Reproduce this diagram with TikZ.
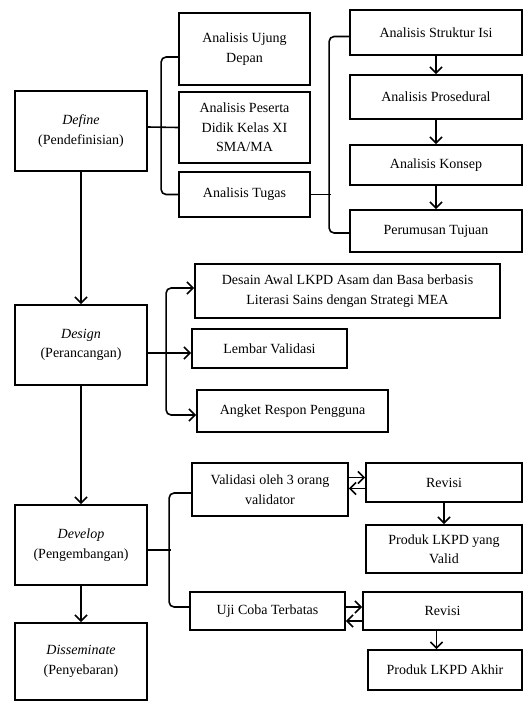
\documentclass[tikz,border=0pt]{standalone}
\usepackage{fontspec}
\setmainfont{Liberation Serif}
\usetikzlibrary{arrows.meta}

\begin{document}
\begin{tikzpicture}[x=1pt, y=-1pt,
    box/.style={draw, line width=1.8pt, align=center, inner sep=2pt,
        font=\fontsize{14}{19.5}\selectfont},
    every path/.style={line width=1.6pt},
    >={Straight Barb[length=6pt,width=12pt]}]
            \useasboundingbox (0,0) rectangle (531,702);
            \node[box, minimum width=132, minimum height=80] (def) at (81,131) {\textit{Define}\\(Pendefinisian)};
            \node[box, minimum width=131, minimum height=72] (ujung) at (244.5,49) {Analisis Ujung\\Depan};
            \node[box, minimum width=131, minimum height=71] (peserta) at (244.5,127.5) {Analisis Peserta\\Didik Kelas XI\\SMA/MA};
            \node[box, minimum width=131, minimum height=45] (tugas) at (244.5,194.5) {Analisis Tugas};
            \node[box, minimum width=172, minimum height=45] (struktur) at (436,32.5) {Analisis Struktur Isi};
            \node[box, minimum width=172, minimum height=44] (prosedur) at (436,97) {Analisis Prosedural};
            \node[box, minimum width=172, minimum height=40] (konsep) at (436,165) {Analisis Konsep};
            \node[box, minimum width=172, minimum height=42] (tujuan) at (436,231) {Perumusan Tujuan};
            \node[box, minimum width=132, minimum height=80] (des) at (81,345) {\textit{Design}\\(Perancangan)};
            \node[box, minimum width=305, minimum height=54] (awal) at (347.5,291) {Desain Awal LKPD Asam dan Basa berbasis\\Literasi Sains dengan Strategi MEA};
            \node[box, minimum width=155, minimum height=39] (lembar) at (269.5,348.5) {Lembar Validasi};
            \node[box, minimum width=191, minimum height=42] (angket) at (292.5,411) {Angket Respon Pengguna};
            \node[box, minimum width=132, minimum height=80] (dev) at (81,545) {\textit{Develop}\\(Pengembangan)};
            \node[box, minimum width=132, minimum height=77] (dis) at (81,661.5) {\textit{Disseminate}\\(Penyebaran)};
            \node[box, minimum width=156, minimum height=53] (valid) at (270,489.5) {Validasi oleh 3 orang\\validator};
            \node[box, minimum width=156, minimum height=39] (rev1) at (444,482.5) {Revisi};
            \node[box, minimum width=156, minimum height=48] (prod1) at (444,549) {Produk LKPD yang\\Valid};
            \node[box, minimum width=155, minimum height=38] (uji) at (267.5,611) {Uji Coba Terbatas};
            \node[box, minimum width=159, minimum height=38] (rev2) at (442.5,611) {Revisi};
            \node[box, minimum width=154, minimum height=40] (prod2) at (445,670) {Produk LKPD Akhir};
            \draw[rounded corners=5pt] ([yshift=-8pt]ujung.west) -- ++(-17,0) |- (tugas.west);
            \draw ([yshift=4pt]def.east) -- (peserta.west);
            \draw[rounded corners=5pt] ([yshift=-4pt]struktur.west) -- ++(-20,0) |- ([yshift=-2pt]tujuan.west);
            \draw (tugas.east) -- ++(20,0);
            \draw[->] (struktur) -- (prosedur);
            \draw[->] (prosedur) -- (konsep);
            \draw[->] (konsep) -- (tujuan);
            \draw[->] (def) -- (des);
            \draw[<->, rounded corners=5pt] ([yshift=3pt]awal.west) -- ++(-28,0) |- ([yshift=-4pt]angket.west);
            \draw[->] ([yshift=-8pt]des.east) -- ([yshift=-4.5pt]lembar.west);
            \draw[->] (des) -- (dev);
            \draw[->] (dev) -- (dis);
            \draw[rounded corners=5pt] ([yshift=-3.5pt]valid.west) -- ++(-22,0) |- ([yshift=4pt]uji.west);
            \draw ([yshift=-5pt]dev.east) -- ++(23,0);
            \draw[->] ([yshift=5pt]rev1.west -| valid.east) -- ([yshift=5pt]rev1.west);
            \draw[->] ([yshift=-6pt]rev1.west) -- ([yshift=-6pt]rev1.west -| valid.east);
            \draw[->] (rev1) -- (prod1);
            \draw[->] ([yshift=4pt]uji.east) -- ([yshift=4pt]rev2.west);
            \draw[->] ([yshift=-10pt]rev2.west) -- ([yshift=-10pt]uji.east);
            \draw[->] ([xshift=-6pt]rev2.south) -- ([xshift=-6pt]rev2.south |- prod2.north);
        \end{tikzpicture}
\end{document}
